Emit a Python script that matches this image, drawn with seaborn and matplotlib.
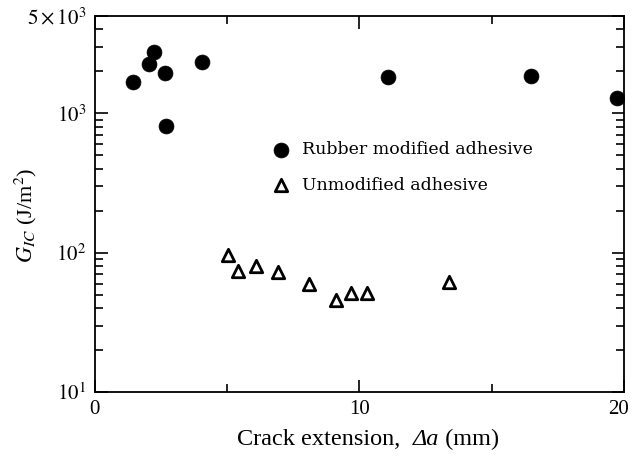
import matplotlib
matplotlib.use("Agg")
import matplotlib.pyplot as plt
import matplotlib.ticker as mticker
import matplotlib.transforms as mtransforms
from matplotlib.offsetbox import TextArea, HPacker, AnchoredOffsetbox
import seaborn as sns
import pandas as pd

# Fracture toughness vs crack extension
rubber_da = [1.43, 2.04, 2.23, 2.64, 2.68, 4.04, 11.09, 16.49, 19.74]
rubber_gic = [1670, 2280, 2740, 1935, 807, 2320, 1810, 1870, 1280]

unmod_da = [5.02, 5.40, 6.11, 6.94, 8.08, 9.13, 9.70, 10.30, 13.40]
unmod_gic = [96.8, 74.3, 80.7, 73.1, 60.0, 46.0, 51.7, 51.7, 62.0]

series_names = ["Rubber modified adhesive", "Unmodified adhesive"]
y_ticks = [10, 100, 1000, 5000]
y_tick_labels = [r"$10^1$", r"$10^2$", r"$10^3$", r"$5\times10^3$"]
x_ticks = [0, 10, 20]

df = pd.DataFrame({
    "da": rubber_da + unmod_da,
    "gic": rubber_gic + unmod_gic,
    "kind": [series_names[0]] * len(rubber_da) + [series_names[1]] * len(unmod_da),
})

sns.set_theme(style="ticks")
plt.rcParams["font.family"] = ["Liberation Serif", "DejaVu Serif"]
plt.rcParams["mathtext.fontset"] = "stix"
plt.rcParams["text.color"] = "black"
plt.rcParams["axes.labelcolor"] = "black"

fig = plt.figure(figsize=(6.32, 4.57), dpi=100)
ax = fig.add_axes([0.150, 0.142, 0.837, 0.823])

sns.scatterplot(
    data=df[df.kind == series_names[0]], x="da", y="gic", ax=ax,
    marker="o", s=115, color="black", edgecolor="black", linewidth=0.5,
    label=series_names[0], zorder=3,
)
sns.scatterplot(
    data=df[df.kind == series_names[1]], x="da", y="gic", ax=ax,
    marker="^", s=80, facecolor="white", edgecolor="black", linewidth=2.0,
    label=series_names[1], zorder=3,
)

ax.set_yscale("log")
ax.set_ylim(10, 5000)
ax.set_xlim(0, 20)

ax.set_xticks(x_ticks)
ax.set_xticklabels([str(t) for t in x_ticks])
ax.xaxis.set_minor_locator(mticker.FixedLocator([5, 15]))
ax.set_yticks(y_ticks)
ax.set_yticklabels(y_tick_labels)
ax.yaxis.set_minor_locator(mticker.LogLocator(base=10, subs=range(2, 10)))
ax.yaxis.set_minor_formatter(mticker.NullFormatter())

ax.tick_params(axis="both", which="both", direction="in",
               top=True, right=True, colors="black", labelcolor="black", labelsize=15)
ax.tick_params(axis="both", which="major", length=9, width=1.2, pad=6)
ax.tick_params(axis="both", which="minor", length=6, width=1.2)
for s in ax.spines.values():
    s.set_linewidth(1.3)
    s.set_color("black")

# keep the last x tick label inside the figure
last = ax.get_xticklabels()[-1]
last.set_transform(last.get_transform() +
                   mtransforms.ScaledTranslation(-0.05, 0, fig.dpi_scale_trans))

# x-axis title with an italic "Δa"
ax.set_xlabel("")
tp = dict(size=17.5, family="Liberation Serif", color="black")
parts = [
    TextArea("Crack extension,  ", textprops=tp),
    TextArea("Δa", textprops=dict(tp, style="italic")),
    TextArea(" (mm)", textprops=tp),
]
xtitle = AnchoredOffsetbox(loc="upper center", child=HPacker(children=parts, pad=0, sep=0),
                           frameon=False, bbox_to_anchor=(0.517, -0.098),
                           bbox_transform=ax.transAxes, borderpad=0, pad=0)
ax.add_artist(xtitle)

ax.set_ylabel(r"$G_{IC}$ (J/m$^2$)", fontsize=16, color="black")
ax.yaxis.set_label_coords(-0.105, 0.47)

leg = ax.legend(loc="upper left", bbox_to_anchor=(0.32, 0.685), frameon=False,
                prop=dict(family="DejaVu Serif", size=12.5),
                handletextpad=0.6, labelspacing=1.05,
                borderaxespad=0, handlelength=1.2)
for t in leg.get_texts():
    t.set_color("black")

fig.savefig("out.png", dpi=100)
